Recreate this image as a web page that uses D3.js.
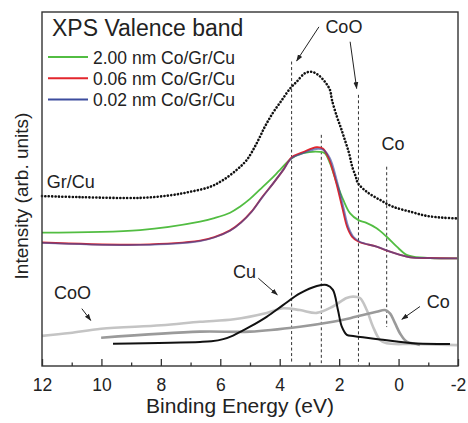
<!DOCTYPE html>
<html>
<head>
<meta charset="utf-8" />
<title>XPS Valence band</title>
<script src="https://d3js.org/d3.v7.min.js"></script>
<style>
  body { margin: 0; background: #fff; }
  text { font-family: "Liberation Sans", Arial, sans-serif; fill: #222; }
</style>
</head>
<body>
<div id="chart"></div>
<script>
// binding energy (eV) and intensity (arb. units)
const grCuBE  = [12, 10.72, 8.7, 7.7, 7.02, 6.35, 5.91, 5.45, 5.11, 4.77, 4.5, 4.23, 3.93, 3.65, 3.43, 3.15, 2.92, 2.7, 2.48, 2.31, 2.24, 2.07, 1.95, 1.84, 1.67, 1.56, 1.44, 1.37, 1.07, 0.62, 0.19, -0.39, -0.95, -1.5, -1.97];
const grCuInt = [48.0, 47.7, 47.5, 48.2, 49.2, 50.6, 52.5, 55.4, 58.2, 63.0, 67.6, 71.5, 75.1, 78.4, 80.3, 82.7, 83.1, 82.2, 80.3, 78.0, 75.1, 70.3, 67.5, 64.7, 60.2, 56.3, 53.5, 51.7, 49.2, 46.9, 45.0, 43.6, 42.4, 41.9, 41.7];

const co200BE  = [12, 8.7, 6.68, 6.2, 5.67, 5.34, 5.0, 4.67, 4.33, 3.99, 3.6, 3.22, 2.64, 2.48, 2.31, 2.08, 1.86, 1.63, 1.35, 1.1, 0.74, 0.4, 0.06, -0.27, -0.49, -1.06, -1.97];
const co200Int = [37.7, 38.4, 40.8, 41.8, 43.3, 45.0, 47.2, 49.8, 52.5, 55.4, 58.7, 60.1, 60.5, 60.1, 57.3, 51.6, 46.9, 43.1, 41.2, 40.5, 38.9, 36.5, 33.7, 31.4, 30.9, 30.5, 30.4];

const co006BE  = [12, 8.7, 6.68, 6.2, 5.67, 5.3, 4.95, 4.6, 4.22, 3.88, 3.6, 3.21, 2.76, 2.55, 2.35, 2.12, 1.9, 1.73, 1.56, 1.34, 0.74, 0.29, -0.05, -0.39, -1.06, -1.97];
const co006Int = [34.9, 34.3, 35.4, 36.4, 38.3, 40.6, 43.6, 47.6, 51.6, 55.4, 58.9, 60.4, 61.8, 61.4, 58.7, 52.5, 45.0, 39.3, 36.5, 35.1, 33.7, 32.3, 31.4, 30.7, 30.5, 30.4];

const co002BE  = [12, 8.7, 6.68, 6.2, 5.67, 5.3, 4.95, 4.6, 4.22, 3.88, 3.6, 3.21, 2.76, 2.53, 2.31, 2.08, 1.86, 1.69, 1.52, 1.3, 0.74, 0.29, -0.05, -0.39, -1.06, -1.97];
const co002Int = [34.8, 34.2, 35.3, 36.3, 38.2, 40.5, 43.5, 47.5, 51.6, 55.4, 58.7, 60.1, 61.3, 61.0, 58.7, 52.5, 45.0, 39.3, 36.5, 35.1, 33.7, 32.3, 31.4, 30.7, 30.5, 30.4];

const coORefBE  = [12, 11.06, 10.01, 7.99, 6.68, 5.54, 4.44, 3.89, 3.32, 2.75, 2.21, 1.75, 1.53, 1.3, 1.07, 0.86, 0.62, 0.4, -0.49, -1.97];
const coORefInt = [8.5, 9.3, 10.5, 11.5, 12.5, 13.2, 15.0, 16.3, 15.8, 15.0, 16.8, 19.2, 19.6, 19.2, 15.8, 11.1, 7.3, 6.4, 6.2, 5.9];

const coRefBE  = [10.01, 6.68, 5.0, 3.32, 2.21, 1.63, 1.2, 0.74, 0.46, 0.29, 0.12, -0.05, -0.27, -0.61, -0.72];
const coRefInt = [8.0, 9.7, 9.7, 11.1, 12.5, 13.5, 14.4, 15.3, 15.8, 14.9, 12.1, 9.2, 6.9, 6.2, 5.9];

const cuRefBE  = [9.61, 6.68, 6.3, 5.9, 5.57, 5.25, 5.0, 4.44, 3.89, 3.32, 2.75, 2.42, 2.21, 2.04, 1.91, 1.74, 1.53, 1.2, 0.62, 0.06, -0.49, -1.73];
const cuRefInt = [6.3, 6.8, 7.0, 7.6, 8.6, 10.0, 11.1, 13.9, 17.2, 20.5, 22.6, 22.9, 21.5, 15.8, 11.1, 8.8, 8.5, 8.1, 7.5, 6.9, 6.4, 6.2];

// dashed marker lines: energy, top and bottom intensity
const markerBE  = [3.6, 2.6, 1.35, 0.4];
const markerTop = [86.0, 65.3, 76.6, 56.3];
const markerBot = [0.8, 0.8, 0.4, 11.0];

const majorTicks = [12, 10, 8, 6, 4, 2, 0, -2];
const minorTicks = [11, 9, 7, 5, 3, 1, -1];

const legendNames = ["2.00 nm Co/Gr/Cu", "0.06 nm Co/Gr/Cu", "0.02 nm Co/Gr/Cu"];
const legendColors = ["#52bd42", "#e3262d", "#3c4c9e"];

const W = 468, H = 423;
const margin = { top: 12, right: 10, bottom: 57, left: 42 };
const width = W - margin.left - margin.right,
      height = H - margin.top - margin.bottom;

const svg = d3.select("#chart").append("svg")
  .attr("width", W).attr("height", H);
const g = svg.append("g")
  .attr("transform", `translate(${margin.left},${margin.top})`);

const x = d3.scaleLinear().domain([12, -2]).range([0, width]);
const y = d3.scaleLinear().domain([0, 100]).range([height, 0]);

const zip = (a, b) => a.map((v, i) => [v, b[i]]);
const line = d3.line().x(d => x(d[0])).y(d => y(d[1])).curve(d3.curveCatmullRom.alpha(0.5));

// dashed markers
g.append("g").selectAll("line")
  .data(markerBE)
  .join("line")
  .attr("x1", d => x(d)).attr("x2", d => x(d))
  .attr("y1", (d, i) => y(markerTop[i]))
  .attr("y2", (d, i) => y(markerBot[i]))
  .attr("stroke", "#333").attr("stroke-width", 1)
  .attr("stroke-dasharray", "3,2.5");

// reference spectra
g.append("path").datum(zip(coORefBE, coORefInt))
  .attr("d", line).attr("fill", "none")
  .attr("stroke", "#c4c4c4").attr("stroke-width", 2.6);
g.append("path").datum(zip(coRefBE, coRefInt))
  .attr("d", line).attr("fill", "none")
  .attr("stroke", "#9a9a9a").attr("stroke-width", 2.6);
g.append("path").datum(zip(cuRefBE, cuRefInt))
  .attr("d", line).attr("fill", "none")
  .attr("stroke", "#111").attr("stroke-width", 2);

// Co/Gr/Cu spectra
g.append("path").datum(zip(co200BE, co200Int))
  .attr("d", line).attr("fill", "none")
  .attr("stroke", legendColors[0]).attr("stroke-width", 1.8);
g.append("path").datum(zip(co006BE, co006Int))
  .attr("d", line).attr("fill", "none")
  .attr("stroke", legendColors[1]).attr("stroke-width", 1.9);
g.append("path").datum(zip(co002BE, co002Int))
  .attr("d", line).attr("fill", "none")
  .attr("stroke", legendColors[2]).attr("stroke-width", 1.8)
  .attr("opacity", 0.65);

// Gr/Cu as dots
g.append("path").datum(zip(grCuBE, grCuInt))
  .attr("d", line).attr("fill", "none")
  .attr("stroke", "#111").attr("stroke-width", 2.6)
  .attr("stroke-linecap", "round")
  .attr("stroke-dasharray", "0.1,3.3");

// axes
g.append("g")
  .attr("transform", `translate(0,${height})`)
  .call(d3.axisBottom(x).tickValues(minorTicks).tickSize(-3.5).tickFormat(""))
  .call(a => a.select(".domain").remove())
  .selectAll("line").attr("stroke", "#333").attr("stroke-width", 1.3);

const xAxis = g.append("g")
  .attr("transform", `translate(0,${height})`)
  .call(d3.axisBottom(x).tickValues(majorTicks).tickSize(-7).tickPadding(13).tickFormat(d => d));
xAxis.select(".domain").remove();
xAxis.selectAll("line").attr("stroke", "#333").attr("stroke-width", 1.3);
xAxis.selectAll("text")
  .style("font-family", "'Liberation Sans', Arial, sans-serif")
  .style("font-size", "17.5px").attr("fill", "#222");

// frame
g.append("rect")
  .attr("width", width).attr("height", height)
  .attr("fill", "none").attr("stroke", "#333").attr("stroke-width", 1.4);

// axis titles
svg.append("text")
  .attr("x", 240).attr("y", 413)
  .attr("text-anchor", "middle").style("font-size", "21px")
  .text("Binding Energy (eV)");
svg.append("text")
  .attr("transform", "rotate(-90)")
  .attr("x", -196).attr("y", 28)
  .attr("text-anchor", "middle").style("font-size", "19px")
  .text("Intensity (arb. units)");

// title and legend
g.append("text")
  .attr("x", 10).attr("y", 24)
  .style("font-size", "23px")
  .text("XPS Valence band");

const leg = g.append("g").selectAll("g")
  .data(legendNames)
  .join("g")
  .attr("transform", (d, i) => `translate(6,${45 + i * 21.2})`);
leg.append("line")
  .attr("x1", 0).attr("x2", 40)
  .attr("stroke", (d, i) => legendColors[i]).attr("stroke-width", 2);
leg.append("text")
  .attr("x", 45).attr("y", 6.5)
  .style("font-size", "17.5px")
  .text(d => d);

// annotations
svg.append("defs").append("marker")
  .attr("id", "arr").attr("viewBox", "0 0 10 10")
  .attr("refX", 9).attr("refY", 5)
  .attr("markerWidth", 7).attr("markerHeight", 7)
  .attr("orient", "auto")
  .append("path").attr("d", "M0,1.5L10,5L0,8.5Z").attr("fill", "#222");

const labels = [
  { t: "CoO", be: 1.84, v: 94.1, anchor: "middle" },
  { t: "Co", be: 0.19, v: 61.0, anchor: "middle" },
  { t: "Gr/Cu", be: 11.84, v: 50.3, anchor: "start" },
  { t: "CoO", be: 10.97, v: 18.9, anchor: "middle" },
  { t: "Cu", be: 5.57, v: 24.9, anchor: "start" },
  { t: "Co", be: -0.95, v: 16.4, anchor: "start" }
];
g.selectAll(".lbl").data(labels).join("text")
  .attr("class", "lbl")
  .attr("x", d => x(d.be)).attr("y", d => y(d.v))
  .attr("text-anchor", d => d.anchor)
  .style("font-size", "18px")
  .text(d => d.t);

const arrows = [
  [2.68, 95.8, 3.43, 86.2],
  [1.63, 91.6, 1.41, 78.4],
  [10.66, 16.2, 10.36, 12.9],
  [4.72, 24.8, 4.08, 20.1],
  [-0.72, 16.8, -0.11, 13.2]
];
g.selectAll(".arr").data(arrows).join("line")
  .attr("class", "arr")
  .attr("x1", d => x(d[0])).attr("y1", d => y(d[1]))
  .attr("x2", d => x(d[2])).attr("y2", d => y(d[3]))
  .attr("stroke", "#222").attr("stroke-width", 1)
  .attr("marker-end", "url(#arr)");
</script>
</body>
</html>
